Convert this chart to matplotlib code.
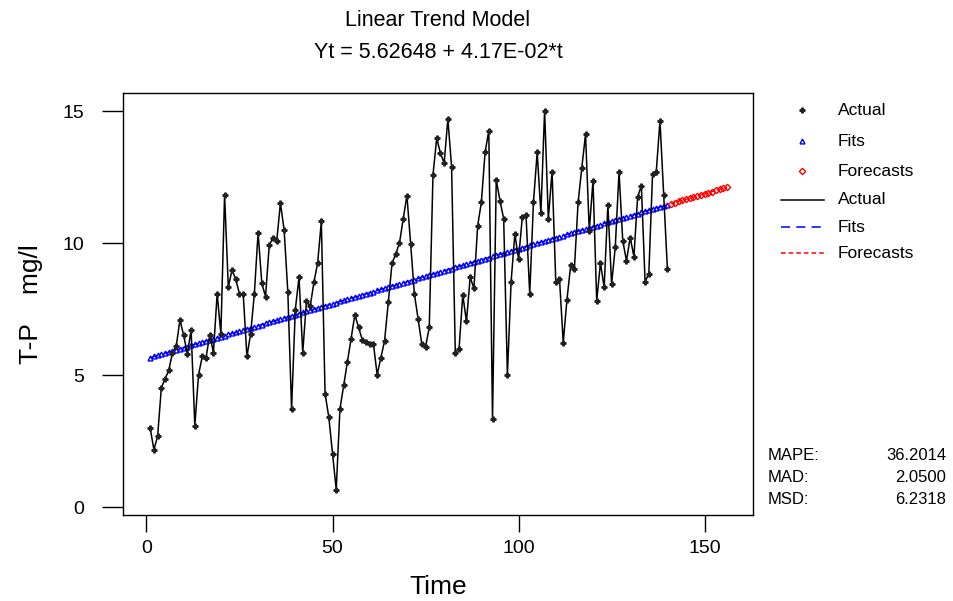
import matplotlib
matplotlib.use("Agg")
import matplotlib.pyplot as plt
from matplotlib.lines import Line2D
import numpy as np

plt.rcParams["font.family"] = ["Liberation Sans", "DejaVu Sans"]

ACTUAL = [
    3.00, 2.18, 2.68, 4.52, 4.87, 5.18, 5.86, 6.09, 7.10, 6.51,
    5.81, 6.72, 3.09, 5.02, 5.71, 5.65, 6.53, 5.86, 8.09, 6.57,
    11.84, 8.34, 9.00, 8.63, 8.09, 8.09, 5.71, 6.57, 8.09, 10.41,
    8.49, 7.98, 9.93, 10.20, 10.07, 11.52, 10.51, 8.14, 3.72, 7.48,
    8.72, 5.86, 7.80, 7.61, 8.52, 9.25, 10.83, 4.30, 3.42, 2.03,
    0.66, 3.72, 4.62, 5.50, 6.39, 7.29, 6.81, 6.34, 6.27, 6.18,
    6.18, 5.02, 5.67, 6.31, 7.77, 9.25, 9.60, 10.01, 10.93, 11.81,
    9.98, 8.09, 7.14, 6.18, 6.08, 6.81, 12.59, 13.98, 13.42, 13.04,
    14.72, 12.91, 5.86, 5.99, 8.04, 7.04, 8.72, 8.29, 10.66, 11.55,
    13.45, 14.27, 3.34, 12.41, 11.62, 10.93, 5.01, 8.55, 10.36, 9.40,
    10.99, 11.08, 8.08, 11.55, 13.45, 11.14, 15.03, 10.92, 12.72, 8.55,
    8.66, 6.24, 7.86, 9.16, 9.03, 11.55, 12.87, 14.14, 10.48, 12.37,
    7.82, 9.25, 8.34, 11.46, 8.45, 9.88, 12.72, 10.09, 9.34, 10.22,
    9.50, 11.77, 12.18, 8.55, 8.84, 12.61, 12.71, 14.65, 11.85, 9.02,
]
N_FORECAST = 16

# trend model shown in the title
INTERCEPT = 5.62648
SLOPE = 4.17e-02

STAT_NAMES = ["MAPE:", "MAD:", "MSD:"]
STAT_VALUES = ["36.2014", "2.0500", "6.2318"]

X_TICKS = [0, 50, 100, 150]
Y_TICKS = [0, 5, 10, 15]

t = np.arange(1, len(ACTUAL) + 1)
t_fc = np.arange(len(ACTUAL) + 1, len(ACTUAL) + N_FORECAST + 1)
fits = INTERCEPT + SLOPE * t
forecasts = INTERCEPT + SLOPE * t_fc

W, H = 954, 601
fig = plt.figure(figsize=(W / 100, H / 100), dpi=100)
ax = fig.add_axes([123 / W, 1 - 515 / H, (753 - 123) / W, (515 - 93) / H])

ax.plot(t, fits, color="#0000FF", lw=1.0, ls=(0, (6, 4)), zorder=2)
ax.plot(t, fits, ls="none", marker="^", ms=3.5, mfc="none", mec="#0000FF",
        mew=1.0, zorder=3)
ax.plot(t_fc, forecasts, color="#FF0000", lw=1.0, ls=(0, (3, 2)), zorder=2)
ax.plot(t_fc, forecasts, ls="none", marker="D", ms=3.2, mfc="none", mec="#FF0000",
        mew=1.0, zorder=3)
ax.plot(t, ACTUAL, color="black", lw=1.1, zorder=4)
ax.plot(t, ACTUAL, ls="none", marker="P", ms=3.5, color="#222222", zorder=5)

ax.set_xlim(-6.3, 163)
ax.set_ylim(-0.3, 15.7)
ax.set_xticks(X_TICKS)
ax.set_yticks(Y_TICKS)
ax.tick_params(axis="x", direction="out", length=12, width=1, pad=6, labelsize=14)
ax.tick_params(axis="y", direction="out", length=15, width=1, pad=13, labelsize=14)
for s in ax.spines.values():
    s.set_linewidth(1.0)

ax.set_xlabel("Time", fontsize=19, labelpad=13)
ax.set_ylabel("T-P    mg/l", fontsize=19, labelpad=14)

fig.text(438 / W, 1 - 21 / H, "Linear Trend Model", ha="center", va="center", fontsize=15.5)
fig.text(438 / W, 1 - 52 / H, "Yt = 5.62648 + 4.17E-02*t", ha="center", va="center", fontsize=15.5)

# legend drawn by hand, as in the Minitab layout
rows = [
    ("Actual", dict(marker="P", ms=3.5, color="#222222", ls="none")),
    ("Fits", dict(marker="^", ms=3.5, mfc="none", mec="#0000FF", ls="none")),
    ("Forecasts", dict(marker="D", ms=3.2, mfc="none", mec="#FF0000", ls="none")),
    ("Actual", dict(color="black", lw=1.1, ls="-")),
    ("Fits", dict(color="#0000FF", lw=1.1, ls=(0, (6, 4)))),
    ("Forecasts", dict(color="#FF0000", lw=1.1, ls=(0, (3, 2)))),
]
row_y = [110, 141, 171, 200, 227, 253]
for (label, style), y in zip(rows, row_y):
    yf = 1 - y / H
    if style.get("marker"):
        fig.add_artist(Line2D([802 / W], [yf], transform=fig.transFigure, **style))
    else:
        fig.add_artist(Line2D([781 / W, 824 / W], [yf, yf], transform=fig.transFigure, **style))
    fig.text(838 / W, yf, label, ha="left", va="center", fontsize=12.5)

for name, val, y in zip(STAT_NAMES, STAT_VALUES, [455, 478, 500]):
    fig.text(768 / W, 1 - y / H, name, ha="left", va="center", fontsize=12)
    fig.text(946 / W, 1 - y / H, val, ha="right", va="center", fontsize=12)

fig.savefig("out.png", dpi=100)
